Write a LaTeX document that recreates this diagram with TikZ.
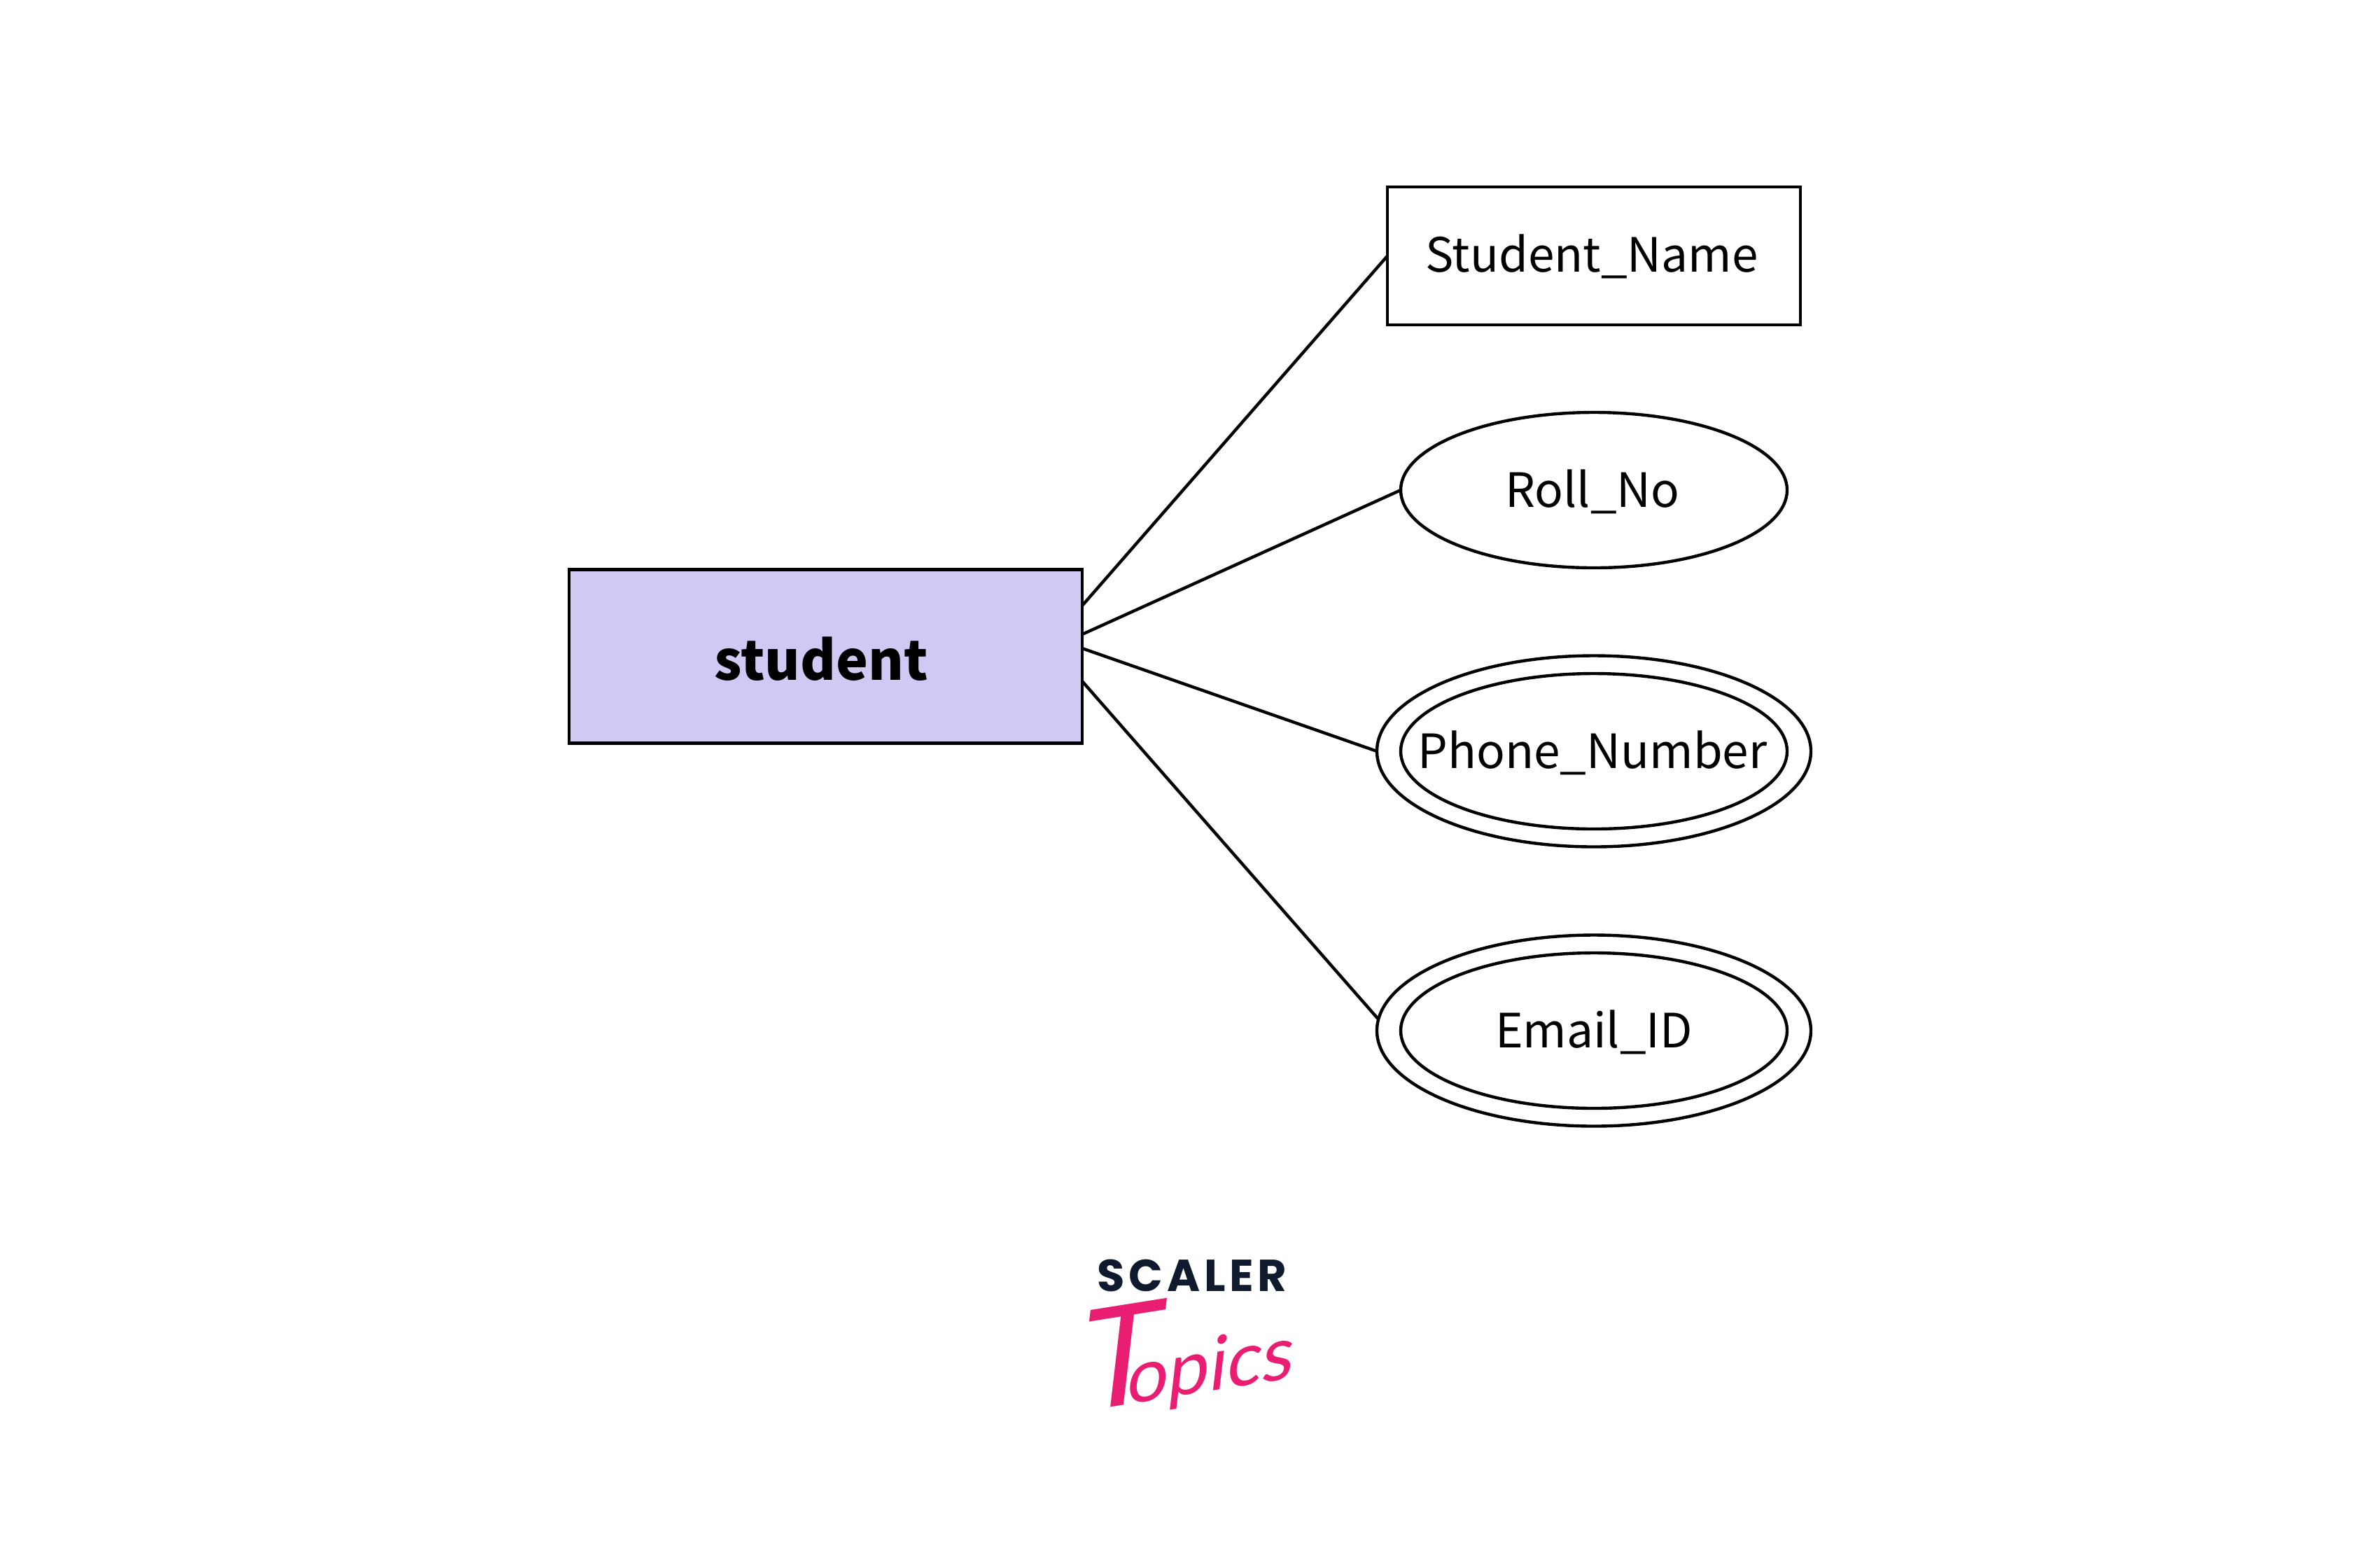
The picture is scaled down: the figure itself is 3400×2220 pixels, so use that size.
\documentclass[tikz,border=0pt]{standalone}
\usepackage{fontspec}
\usetikzlibrary{shapes.geometric}
\setmainfont{Noto Sans CJK JP}
\newfontfamily\logofont[LetterSpace=9]{Poppins}
\newfontfamily\inkfont[FakeSlant=0.28]{Lato}
\definecolor{entityfill}{HTML}{CFCAF3}
\definecolor{logonavy}{HTML}{0F1A2E}
\definecolor{logopink}{HTML}{E91E72}
\tikzset{
  every node/.style={inner sep=0pt,outer sep=0pt,line width=1.25pt,draw=black,text=black,anchor=center,font=\fontsize{19.2}{24}\selectfont},
  entitybox/.style={rectangle,minimum width=733*0.01cm,minimum height=248*0.01cm,fill=entityfill},
  attrbox/.style={rectangle,minimum width=590*0.01cm,minimum height=197*0.01cm},
  attroval/.style={ellipse,minimum width=552*0.01cm,minimum height=222*0.01cm},
  outeroval/.style={ellipse,minimum width=620*0.01cm,minimum height=273*0.01cm},
  labeltext/.style={draw=none},
  entitytext/.style={draw=none,font=\fontsize{22}{28}\selectfont\bfseries},
  linkline/.style={line width=1.25pt,draw=black},
  logotext/.style={draw=none,text=logonavy,font=\fontsize{18.2}{20}\logofont\bfseries},
  logoscript/.style={draw=none,text=logopink,font=\fontsize{30}{30}\inkfont}
}
\begin{document}
\begin{tikzpicture}[x=0.01cm,y=-0.01cm]
\useasboundingbox (0,0) rectangle (3400,2220);
\node[entitybox] (student) at (1179.5,937.5) {};
\node[attrbox] (name) at (2277,365.5) {};
\node[attroval] (roll) at (2277,700) {};
\node[outeroval] (phoneouter) at (2277,1073) {};
\node[attroval] (phone) at (2277,1073) {};
\node[outeroval] (emailouter) at (2277,1472) {};
\node[attroval] (email) at (2277,1472) {};
\node[entitytext] (studenttext) at (1173,941) {student};
\node[labeltext] (nametext) at (2274,366) {Student\_Name};
\node[labeltext] (rolltext) at (2275,702) {Roll\_No};
\node[labeltext] (phonetext) at (2275,1075) {Phone\_Number};
\node[labeltext] (emailtext) at (2277,1474) {Email\_ID};
\coordinate (s1) at (1546,865);
\coordinate (s2) at (1546,906);
\coordinate (s3) at (1546,926);
\coordinate (s4) at (1546,973);
\draw[linkline] (s1) -- (name.west);
\draw[linkline] (s2) -- (roll.west);
\draw[linkline] (s3) -- (phoneouter.west);
\draw[linkline] (s4) -- (emailouter.177);
\node[logotext] (scaler) at (1703,1822) {SCALER};
\node[logoscript,rotate=9] (topics) at (1682,1932) {\fontsize{56}{56}\selectfont T\kern-13pt\fontsize{30}{30}\selectfont opics};
\end{tikzpicture}
\end{document}
